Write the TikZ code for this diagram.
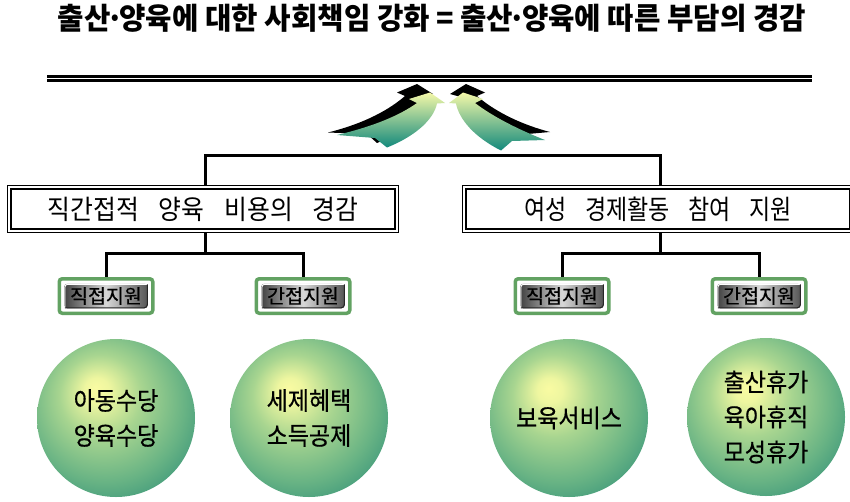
\documentclass[tikz,border=0pt]{standalone}
\usepackage{fontspec}
\setmainfont{Noto Sans CJK KR}
\newfontfamily\medfont{Noto Sans CJK KR}[FakeBold=0.6]
\usepackage{graphicx}
\usetikzlibrary{backgrounds}
\definecolor{boxgreen}{HTML}{62A262}
\definecolor{ay}{HTML}{F4F8A8}
\definecolor{am}{HTML}{A5D48E}
\definecolor{at}{HTML}{12897C}
\definecolor{mdark}{HTML}{303030}
\definecolor{mdark2}{HTML}{454545}
\definecolor{mlight}{HTML}{D8D8D8}
\definecolor{sp0}{HTML}{F9FBA2}
\definecolor{sp1}{HTML}{EEF6A0}
\definecolor{sp2}{HTML}{A8D590}
\definecolor{sp3}{HTML}{68B384}
\definecolor{sp4}{HTML}{2C8C77}
\pgfdeclareradialshading{sphere}{\pgfpoint{-6.6bp}{9.5bp}}{color(0bp)=(sp0); color(4bp)=(sp1); color(13bp)=(sp2); color(25bp)=(sp3); color(36bp)=(sp4); color(50bp)=(sp4)}
\newcommand{\nx}[1]{\scalebox{0.92}[1]{#1}}
\newcommand{\md}{\makebox[0.3em]{·}}
\begin{document}
\begin{tikzpicture}[x=1pt,y=-1pt,
  conn/.style={line width=3pt, black},
  bigbox/.style={draw, line width=1.2pt, double=white, double distance=2.2pt,
    minimum width=387.4pt, minimum height=43.4pt, inner sep=0pt,
    font=\fontsize{27}{27}\selectfont},
  sbox/.style={draw=boxgreen, line width=3.5pt, rounded corners=3pt, fill=white,
    minimum width=93.5pt, minimum height=34.5pt, inner sep=0pt,
    font=\fontsize{19.5}{19.5}\medfont,
    path picture={
      \shade[left color=mdark, right color=mdark2, middle color=mlight]
        ([shift={(5,5)}]path picture bounding box.north west) rectangle
        ([shift={(-5,-5)}]path picture bounding box.south east);
      \draw[white, line width=1pt]
        ([shift={(5.5,-5.5)}]path picture bounding box.south west) --
        ([shift={(5.5,5.5)}]path picture bounding box.north west) --
        ([shift={(-5.5,5.5)}]path picture bounding box.north east);
      \draw[black!85, line width=1pt]
        ([shift={(5.5,-5.5)}]path picture bounding box.south west) --
        ([shift={(-5.5,-5.5)}]path picture bounding box.south east) --
        ([shift={(-5.5,5.5)}]path picture bounding box.north east);
    }},
  ball/.style={circle, minimum size=158pt, inner sep=0pt, shade, shading=sphere,
    align=center, font=\fontsize{25}{35}\medfont}
]
\path[use as bounding box] (0,0) rectangle (850,501);
\clip (0,0) rectangle (850,501);

% title
\node[font=\fontsize{30}{30}\selectfont\bfseries] (title) at (432,18)
  {\resizebox{748pt}{\height}{출산\md 양육에 대한 사회책임 강화 = 출산\md 양육에 따른 부담의 경감}};

% double rule
\draw[line width=2.2pt] (47,76.5) -- (812,76.5);
\draw[line width=2.2pt] (47,80.5) -- (812,80.5);

% arrows: shadows
\fill[black] (328,132.5) .. controls (366,123) and (390,109) .. (405,96) -- (397,92.5) -- (417,84)
  -- (433,94) -- (424,96.5) .. controls (421,113) and (405,132) .. (377,143) -- (367,134) -- cycle;
\fill[black] (550,132) .. controls (516,123) and (492,109) .. (477,96) -- (485,92.5) -- (466,84)
  -- (450,94) -- (459,96.5) .. controls (462,113) and (478,132) .. (506,144) -- (516,135) -- cycle;
% arrows: gradient
\shade[top color=ay, middle color=am, bottom color=at] (337,135) .. controls (375,126) and (400,115) .. (417,103)
  -- (409,99) -- (430,92.5) -- (445,103) -- (437,103.5) .. controls (434,118) and (418,135) .. (387,147.5)
  -- (375,138) -- cycle;
\shade[top color=ay, middle color=am, bottom color=at] (545,140) .. controls (517,129) and (492,116) .. (475,103)
  -- (483,99) -- (463,92.5) -- (449,103) -- (456,103.5) .. controls (459,119) and (474,137) .. (501,150.5)
  -- (512,141) -- cycle;

% tree coordinates
\coordinate (t1) at (205,155);
\coordinate (t2) at (660,155);
\coordinate (j1) at (205,253);
\coordinate (j2) at (660,253);

\node[bigbox] (b1) at (203,209)
  {\resizebox{311pt}{\height}{직간접적\hspace{0.8em}양육\hspace{0.8em}비용의\hspace{0.8em}경감}};
\node[bigbox] (b2) at (658,209)
  {\resizebox{267pt}{\height}{여성\hspace{0.8em}경제활동\hspace{0.8em}참여\hspace{0.8em}지원}};

\node[sbox] (s1) at (106,296) {직접지원};
\node[sbox] (s2) at (303,296) {간접지원};
\node[sbox] (s3) at (562,296) {직접지원};
\node[sbox] (s4) at (759,296) {간접지원};

\begin{scope}[on background layer]
\draw[conn] (t1 |- b1.north) -- (t1) -- (t2) -- (t2 |- b2.north);
\draw[conn] (t1 |- b1.south) -- (j1);
\draw[conn] (t2 |- b2.south) -- (j2);
\draw[conn] (s1.north) |- (j1) -| (s2.north);
\draw[conn] (s3.north) |- (j2) -| (s4.north);
\end{scope}

% circles
\node[ball] (c1) at (116,418) {\nx{아동수당}\\\nx{양육수당}};
\node[ball] (c2) at (309,418) {\nx{세제혜택}\\\nx{소득공제}};
\node[ball] (c3) at (569,418) {\nx{보육서비스}};
\node[ball] (c4) at (766,417) {\nx{출산휴가}\\\nx{육아휴직}\\\nx{모성휴가}};
\end{tikzpicture}
\end{document}
